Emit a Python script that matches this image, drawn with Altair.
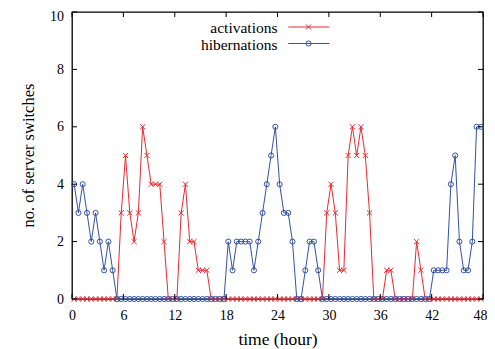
import altair as alt
import pandas as pd

# ---- data (one sample every half hour) ----
series_names = ["activations", "hibernations"]
activations = [0, 0, 0, 0, 0, 0, 0, 0, 0, 0, 0,
               3, 5, 3, 2, 3, 6, 5, 4, 4, 4, 2,
               0, 0, 0,
               3, 4, 2, 2, 1, 1, 1,
               0, 0, 0, 0, 0, 0, 0, 0, 0, 0, 0, 0, 0, 0, 0, 0, 0, 0, 0, 0, 0, 0, 0, 0, 0, 0, 0,
               3, 4, 3, 1, 1, 5, 6, 5, 6, 5, 3,
               0, 0, 0,
               1, 1,
               0, 0, 0, 0, 0,
               2, 1,
               0, 0, 0, 0, 0, 0, 0, 0, 0, 0, 0, 0, 0, 0]
hibernations = [4, 3, 4, 3, 2, 3, 2, 1, 2, 1,
                0, 0, 0, 0, 0, 0, 0, 0, 0, 0, 0, 0, 0, 0, 0, 0, 0, 0, 0, 0, 0, 0, 0, 0, 0, 0,
                2, 1, 2, 2, 2, 2, 1, 2, 3, 4, 5, 6, 4, 3, 3, 2,
                0, 0,
                1, 2, 2, 1,
                0, 0, 0, 0, 0, 0, 0, 0, 0, 0, 0, 0, 0, 0, 0, 0, 0, 0, 0, 0, 0, 0, 0, 0, 0, 0,
                1, 1, 1, 1, 4, 5, 2, 1, 1, 2, 6, 6]
hours = [0.25 + 0.5 * i for i in range(len(activations))]
x_ticks = [0, 6, 12, 18, 24, 30, 36, 42, 48]
y_ticks = [0, 2, 4, 6, 8, 10]

RED = "#e62a32"
BLUE = "#3552a4"
XPATH = "M-1,-1L1,1M-1,1L1,-1"
FONT = "'Liberation Serif', 'Times New Roman', Times, serif"
W, H = 411, 287

df = pd.DataFrame({
    "hour": hours * 2,
    "value": activations + hibernations,
    "series": [series_names[0]] * len(hours) + [series_names[1]] * len(hours),
})

xscale = alt.Scale(domain=[0, 48], nice=False, zero=False)
yscale = alt.Scale(domain=[0, 10], nice=False)
x_axis = alt.Axis(values=x_ticks, title="time (hour)", grid=False, ticks=False, tickSize=0,
                  domain=False, labelFontSize=14, labelPadding=9, labelFont=FONT,
                  labelColor="black", titleFont=FONT, titleFontSize=17.5,
                  titleFontWeight="normal", titleColor="black", titleY=45,
                  titleBaseline="alphabetic", labelFlush=False,
                  labelOffset={"condition": {"test": "datum.value == 48", "value": -3}, "value": 0})
y_axis = alt.Axis(values=y_ticks, title="no. of server switches", grid=False, ticks=False,
                  tickSize=0, domain=False, labelFontSize=14, labelPadding=8.5,
                  labelFont=FONT, labelColor="black", titleFont=FONT, titleFontSize=16.5,
                  titleFontWeight="normal", titleColor="black", titleX=-44, titleY=143,
                  titleAngle=270, titleBaseline="middle", titleAlign="center",
                  labelFlush=False,
                  labelOffset={"condition": {"test": "datum.value == 10", "value": 4}, "value": 0})
color = alt.Color("series:N", scale=alt.Scale(domain=series_names, range=[RED, BLUE]), legend=None)
shape = alt.Shape("series:N", scale=alt.Scale(domain=series_names, range=[XPATH, "circle"]), legend=None)

lines = alt.Chart(df).mark_line(strokeWidth=1, clip=False).encode(
    x=alt.X("hour:Q", scale=xscale, axis=x_axis),
    y=alt.Y("value:Q", scale=yscale, axis=y_axis),
    color=color,
    detail="series:N",
)

points = alt.Chart(df).mark_point(filled=False, size=26, strokeWidth=1, opacity=1, clip=False).encode(
    x=alt.X("hour:Q", scale=xscale, axis=x_axis),
    y=alt.Y("value:Q", scale=yscale, axis=y_axis),
    color=color,
    shape=shape,
)

xt = pd.DataFrame({"hour": x_ticks})
yt = pd.DataFrame({"value": y_ticks})
tick_len = 5
bottom_ticks = alt.Chart(xt).mark_rule(color="black", strokeWidth=1).encode(
    x=alt.X("hour:Q", scale=xscale, axis=x_axis), y=alt.value(H), y2=alt.value(H - tick_len))
top_ticks = alt.Chart(xt).mark_rule(color="black", strokeWidth=1).encode(
    x=alt.X("hour:Q", scale=xscale, axis=x_axis), y=alt.value(0), y2=alt.value(tick_len))
left_ticks = alt.Chart(yt).mark_rule(color="black", strokeWidth=1).encode(
    y=alt.Y("value:Q", scale=yscale, axis=y_axis), x=alt.value(0), x2=alt.value(tick_len))
right_ticks = alt.Chart(yt).mark_rule(color="black", strokeWidth=1).encode(
    y=alt.Y("value:Q", scale=yscale, axis=y_axis), x=alt.value(W - tick_len), x2=alt.value(W))

legend_layers = []
legend_rows = [(series_names[0], RED, XPATH, 15.0), (series_names[1], BLUE, "circle", 31.5)]
for name, col, shp, ly in legend_rows:
    ld = pd.DataFrame({"series": [name]})
    legend_layers.append(alt.Chart(ld).mark_text(align="right", baseline="middle", font=FONT,
                                                 fontSize=15.5, color="black").encode(
        text="series:N", x=alt.value(205.5), y=alt.value(ly + 1)))
    legend_layers.append(alt.Chart(ld).mark_rule(color=col, strokeWidth=1).encode(
        x=alt.value(216.3), x2=alt.value(257.3), y=alt.value(ly)))
    legend_layers.append(alt.Chart(ld).mark_point(shape=shp, color=col, filled=False, size=26,
                                                  strokeWidth=1, opacity=1).encode(
        x=alt.value(236.5), y=alt.value(ly)))

chart = alt.layer(
    lines, points, bottom_ticks, top_ticks, left_ticks, right_ticks, *legend_layers
).properties(
    width=W, height=H,
    autosize=alt.AutoSizeParams(type="none"),
    padding={"left": 64, "top": 4, "right": 4, "bottom": 50},
    background="white",
).configure_view(stroke="black", strokeWidth=1.3)

chart.save("out.html", embed_options={"renderer": "svg", "actions": False})
